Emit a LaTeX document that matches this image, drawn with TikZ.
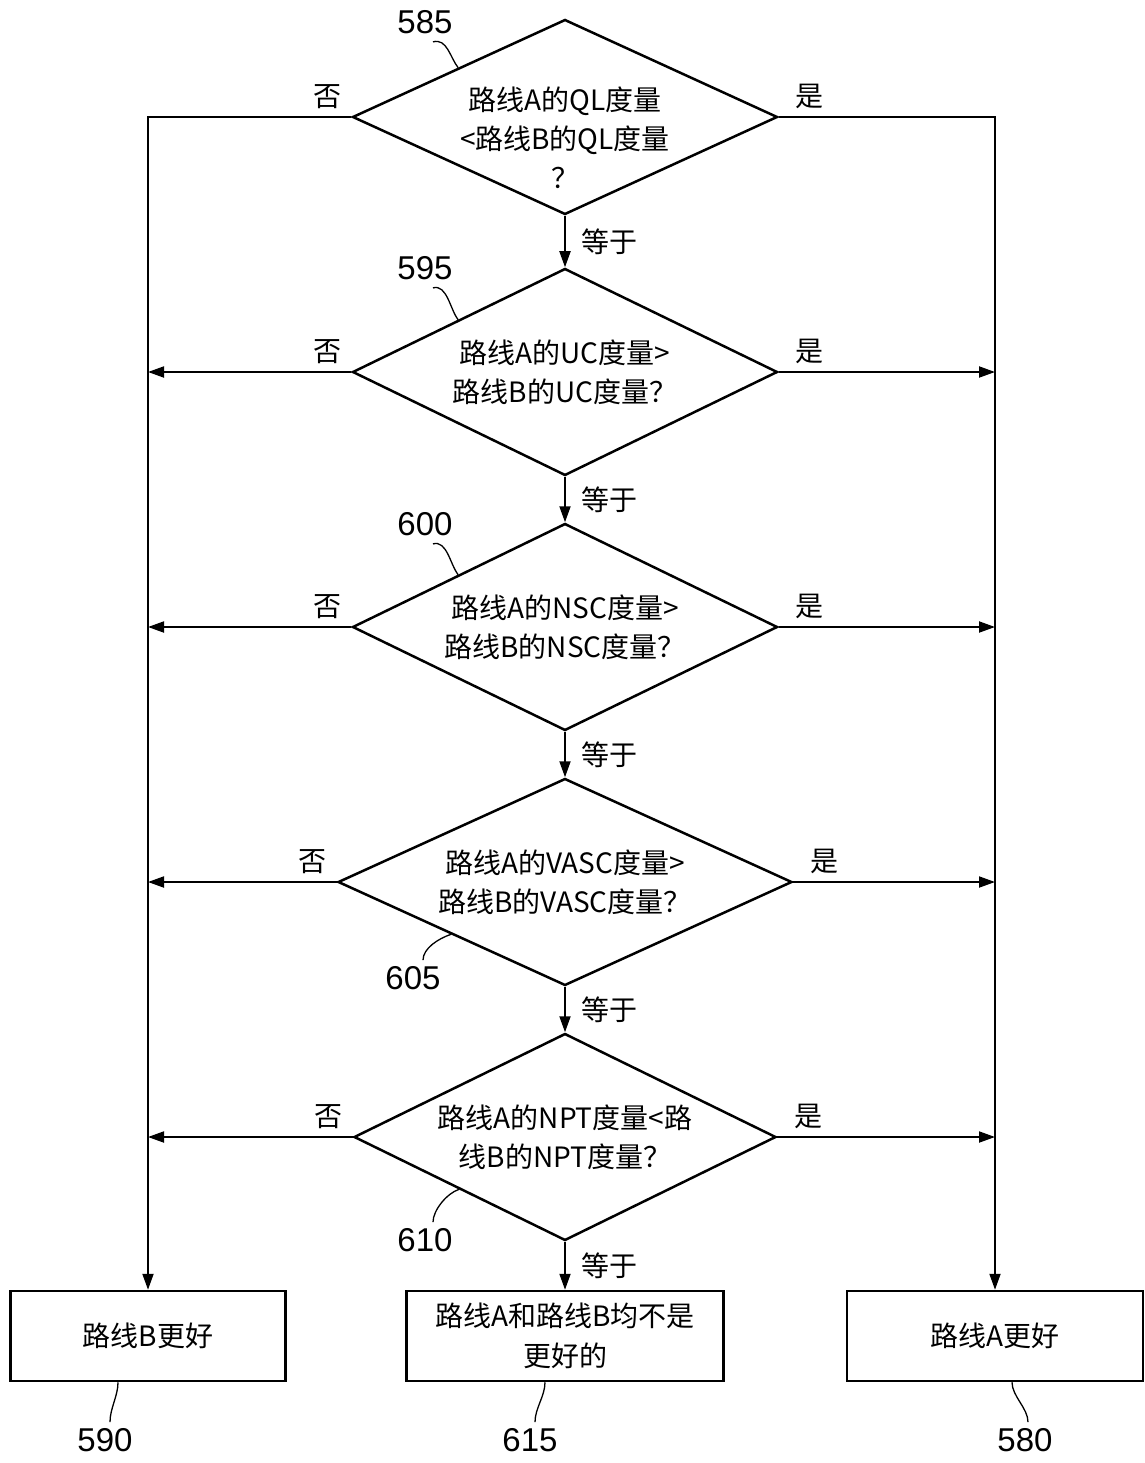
\documentclass[tikz,border=0pt]{standalone}
\usepackage{fontspec}
\setmainfont{Liberation Sans}
\newfontfamily\cjk{Noto Sans CJK SC}
\usetikzlibrary{shapes.geometric,arrows.meta}

\tikzstyle{decision} = [diamond,draw=black,line width=2.5pt,shape aspect=2,inner sep=-40pt,minimum width=425pt,minimum height=207pt,align=center,font=\cjk\fontsize{28}{39}\selectfont]
\tikzstyle{result} = [rectangle,draw=black,line width=2.5pt,minimum height=90pt,align=center,font=\cjk\fontsize{28}{40}\selectfont]
\tikzstyle{flow} = [line width=1.9pt]
\tikzstyle{tag} = [font=\cjk\fontsize{28}{34}\selectfont,inner sep=2pt]
\tikzstyle{refnum} = [font=\fontsize{33}{40}\selectfont,inner sep=0pt]
\tikzstyle{leader} = [line width=1.3pt]

\begin{document}
\begin{tikzpicture}[node distance=255pt,>={Triangle[length=16pt,width=11pt]}]
	\useasboundingbox (0pt,0pt) rectangle (1144pt,-1463pt);
	\node (ql) [decision,minimum height=195pt] at (565pt,-117pt) {\mbox{}\\[26pt]路线A的QL度量\\<路线B的QL度量\\？};
	\node (uc) [decision,below of=ql] {路线A的UC度量>\\路线B的UC度量？};
	\node (nsc) [decision,below of=uc] {路线A的NSC度量>\\路线B的NSC度量？};
	\node (vasc) [decision,below of=nsc,minimum width=454pt] {路线A的VASC度量>\\路线B的VASC度量？};
	\node (npt) [decision,below of=vasc,minimum width=422pt] {路线A的NPT度量<路\\线B的NPT度量？};
	\node (neither) [result,below of=npt,node distance=199pt,minimum width=317pt] {路线A和路线B均不是\\更好的};
	\node (bbetter) [result,left of=neither,node distance=417pt,minimum width=275pt] {路线B更好};
	\node (abetter) [result,right of=neither,node distance=430pt,minimum width=296pt] {路线A更好};
	% reference numerals
	\node (n585) [refnum] at (425pt,-22pt) {585};
	\node (n595) [refnum] at (425pt,-268pt) {595};
	\node (n600) [refnum] at (425pt,-524pt) {600};
	\node (n605) [refnum] at (413pt,-978pt) {605};
	\node (n610) [refnum] at (425pt,-1240pt) {610};
	\node (n590) [refnum] at (105pt,-1440pt) {590};
	\node (n615) [refnum] at (530pt,-1440pt) {615};
	\node (n580) [refnum] at (1025pt,-1440pt) {580};
	% no / yes branches
	\draw [flow,->] (ql.west) -| node[tag,pos=0,above left,xshift=-7pt,yshift=5pt] {否} (bbetter.north);
	\draw [flow,->] (ql.east) -| node[tag,pos=0,above right,xshift=14pt,yshift=5pt] {是} (abetter.north);
	\draw [flow,->] (uc.west) -- node[tag,pos=0,above left,xshift=-7pt,yshift=5pt] {否} (uc.west -| bbetter.north);
	\draw [flow,->] (uc.east) -- node[tag,pos=0,above right,xshift=14pt,yshift=5pt] {是} (uc.east -| abetter.north);
	\draw [flow,->] (nsc.west) -- node[tag,pos=0,above left,xshift=-7pt,yshift=5pt] {否} (nsc.west -| bbetter.north);
	\draw [flow,->] (nsc.east) -- node[tag,pos=0,above right,xshift=14pt,yshift=5pt] {是} (nsc.east -| abetter.north);
	\draw [flow,->] (vasc.west) -- node[tag,pos=0,above left,xshift=-7pt,yshift=5pt] {否} (vasc.west -| bbetter.north);
	\draw [flow,->] (vasc.east) -- node[tag,pos=0,above right,xshift=14pt,yshift=5pt] {是} (vasc.east -| abetter.north);
	\draw [flow,->] (npt.west) -- node[tag,pos=0,above left,xshift=-7pt,yshift=5pt] {否} (npt.west -| bbetter.north);
	\draw [flow,->] (npt.east) -- node[tag,pos=0,above right,xshift=14pt,yshift=5pt] {是} (npt.east -| abetter.north);
	% equal branches
	\draw [flow,->] (ql.south) -- node[tag,right,xshift=14pt] {等于} (uc.north);
	\draw [flow,->] (uc.south) -- node[tag,right,xshift=14pt] {等于} (nsc.north);
	\draw [flow,->] (nsc.south) -- node[tag,right,xshift=14pt] {等于} (vasc.north);
	\draw [flow,->] (vasc.south) -- node[tag,right,xshift=14pt] {等于} (npt.north);
	\draw [flow,->] (npt.south) -- node[tag,right,xshift=14pt] {等于} (neither.north);
	% leaders
	\draw [leader] ([shift={(8pt,-8pt)}]n585.south) .. controls +(14pt,4pt) and +(-8pt,10pt) .. (ql.north west);
	\draw [leader] ([shift={(8pt,-8pt)}]n595.south) .. controls +(14pt,4pt) and +(-8pt,10pt) .. (uc.north west);
	\draw [leader] ([shift={(8pt,-8pt)}]n600.south) .. controls +(14pt,4pt) and +(-8pt,10pt) .. (nsc.north west);
	\draw [leader] ([shift={(10pt,6pt)}]n605.north) .. controls +(0pt,12pt) and +(-12pt,-4pt) .. (vasc.south west);
	\draw [leader] ([shift={(8pt,6pt)}]n610.north) .. controls +(0pt,12pt) and +(-12pt,-4pt) .. (npt.south west);
	\draw [leader] ([shift={(5pt,6pt)}]n590.north) .. controls +(0pt,14pt) and +(0pt,-14pt) .. ([xshift=-30pt]bbetter.south);
	\draw [leader] ([shift={(5pt,6pt)}]n615.north) .. controls +(0pt,14pt) and +(0pt,-14pt) .. ([xshift=-20pt]neither.south);
	\draw [leader] ([shift={(3pt,6pt)}]n580.north) .. controls +(0pt,14pt) and +(0pt,-14pt) .. ([xshift=17pt]abetter.south);
\end{tikzpicture}
\end{document}
